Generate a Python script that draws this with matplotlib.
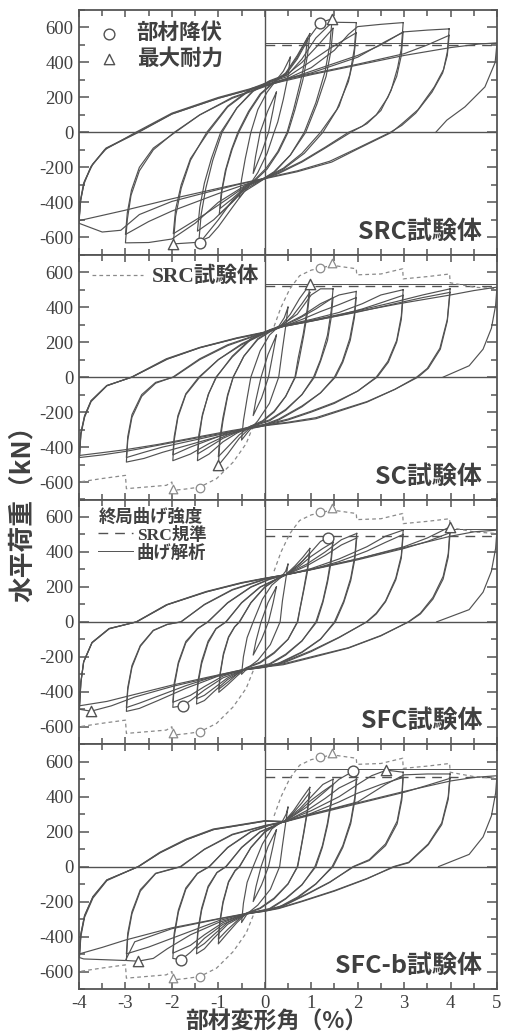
import matplotlib
matplotlib.use("Agg")
import matplotlib.pyplot as plt
from matplotlib.ticker import MultipleLocator, FixedLocator, FixedFormatter

plt.rcParams['font.family'] = ['Liberation Serif', 'Noto Sans CJK JP']
plt.rcParams['axes.unicode_minus'] = False

# ---------------------------------------------------------------- data
panel_names = ["SRC試験体", "SC試験体", "SFC試験体", "SFC-b試験体"]
x_ticks = [-4, -3, -2, -1, 0, 1, 2, 3, 4, 5]
x_tick_labels = ["-4", "-3", "-2", "-1", "0", "1", "2", "3", "4", "5"]
y_ticks = [-600, -400, -200, 0, 200, 400, 600]
y_tick_labels = ["-600", "-400", "-200", "0", "200", "400", "600"]

# hysteresis loops (drift %, load kN): positive peak -> unloading -> negative peak -> reloading
src_loops = [
    [(0.25, 230), (0.18, 130), (0.08, 0), (-0.06, -110), (-0.25, -235), (-0.2, -140), (-0.1, 0), (0.06, 120), (0.25, 230)],
    [(0.55, 430), (0.5, 320), (0.4, 190), (0.28, 60), (0.2, 0), (0.05, -120), (-0.15, -230), (-0.35, -310), (-0.55, -375),
     (-0.5, -270), (-0.42, -150), (-0.3, 0), (-0.15, 130), (0.05, 230), (0.25, 300), (0.4, 350), (0.55, 430)],
    [(0.97, 565), (0.92, 440), (0.82, 300), (0.65, 130), (0.5, 0), (0.3, -110), (0.05, -210), (-0.25, -285), (-0.45, -330),
     (-0.7, -400), (-0.98, -470), (-0.94, -350), (-0.85, -220), (-0.72, -100), (-0.58, 0), (-0.35, 120), (-0.1, 220),
     (0.2, 290), (0.45, 340), (0.7, 440), (0.97, 565)],
    [(0.92, 540), (0.87, 420), (0.77, 290), (0.62, 130), (0.48, 0), (0.28, -110), (0.03, -205), (-0.25, -280), (-0.45, -320),
     (-0.7, -380), (-0.96, -435), (-0.92, -330), (-0.83, -210), (-0.7, -95), (-0.56, 0), (-0.33, 120), (-0.08, 220),
     (0.2, 285), (0.45, 335), (0.7, 430), (0.92, 540)],
    [(1.45, 650), (1.4, 500), (1.3, 350), (1.1, 170), (0.85, 0), (0.55, -130), (0.2, -230), (-0.15, -290), (-0.45, -340),
     (-0.7, -430), (-1.0, -540), (-1.2, -600), (-1.42, -625), (-1.37, -470), (-1.27, -320), (-1.12, -160), (-0.92, 0),
     (-0.6, 140), (-0.25, 240), (0.1, 295), (0.45, 330), (0.7, 420), (0.95, 540), (1.19, 627), (1.45, 650)],
    [(1.47, 595), (1.42, 460), (1.32, 320), (1.12, 160), (0.88, 0), (0.55, -130), (0.2, -225), (-0.15, -285), (-0.45, -330),
     (-0.75, -410), (-1.1, -500), (-1.45, -565), (-1.4, -430), (-1.3, -290), (-1.15, -150), (-0.95, 0), (-0.6, 140),
     (-0.25, 235), (0.1, 290), (0.45, 325), (0.8, 400), (1.15, 500), (1.47, 595)],
    [(1.97, 628), (1.93, 480), (1.83, 330), (1.6, 150), (1.25, 0), (0.85, -120), (0.4, -210), (0, -265), (-0.4, -310),
     (-0.7, -390), (-1.0, -500), (-1.39, -628), (-1.97, -638), (-1.92, -480), (-1.8, -320), (-1.6, -160), (-1.25, 0),
     (-0.8, 150), (-0.3, 250), (0.2, 300), (0.5, 330), (0.8, 420), (1.1, 540), (1.45, 630), (1.97, 628)],
    [(1.97, 570), (1.92, 430), (1.8, 290), (1.55, 130), (1.2, 0), (0.8, -120), (0.4, -205), (0, -260), (-0.4, -305),
     (-0.8, -380), (-1.3, -470), (-1.97, -580), (-1.92, -440), (-1.8, -300), (-1.6, -150), (-1.22, 0), (-0.8, 145),
     (-0.3, 245), (0.2, 295), (0.5, 320), (0.9, 390), (1.4, 480), (1.97, 570)],
    [(2.98, 628), (2.94, 480), (2.86, 370), (2.72, 240), (2.5, 125), (2.2, 50), (1.85, 0), (1.3, -90), (0.8, -170),
     (0.3, -235), (0, -265), (-0.4, -300), (-1.0, -400), (-1.5, -520), (-2.0, -610), (-2.5, -630), (-3.0, -632),
     (-2.96, -500), (-2.88, -360), (-2.7, -220), (-2.4, -100), (-1.95, 0), (-1.4, 100), (-0.7, 200), (0, 265),
     (0.5, 310), (1.0, 370), (1.5, 470), (1.8, 560), (2.0, 605), (2.5, 618), (2.98, 628)],
    [(2.98, 575), (2.94, 440), (2.84, 320), (2.65, 200), (2.4, 100), (2.1, 35), (1.8, 0), (1.3, -85), (0.8, -165),
     (0.3, -230), (0, -262), (-0.5, -305), (-1.0, -350), (-1.5, -400), (-2.0, -450), (-2.5, -510), (-3.0, -584),
     (-2.96, -460), (-2.87, -330), (-2.7, -200), (-2.4, -90), (-1.93, 0), (-1.4, 100), (-0.7, 195), (0, 262),
     (0.5, 305), (1.0, 350), (1.5, 395), (2.0, 440), (2.5, 500), (2.98, 575)],
    [(3.97, 592), (3.93, 460), (3.85, 360), (3.65, 260), (3.3, 130), (3.0, 60), (2.73, 0), (2.0, -95), (1.44, -170),
     (0.7, -225), (0, -265), (-0.6, -300), (-1.2, -340), (-2.0, -395), (-2.7, -470), (-3.1, -560), (-3.5, -570),
     (-4.0, -520), (-3.97, -400), (-3.9, -300), (-3.75, -200), (-3.45, -100), (-2.78, 0), (-2.0, 110), (-1.0, 200),
     (0, 272), (0.5, 310), (1.0, 340), (2.0, 430), (2.6, 520), (3.0, 575), (3.5, 585), (3.97, 592)],
    [(3.97, 555), (3.93, 440), (3.83, 340), (3.6, 230), (3.25, 110), (2.95, 40), (2.7, 0), (2.0, -90), (1.4, -165),
     (0.7, -220), (0, -262), (-1.0, -320), (-2.0, -380), (-3.0, -445), (-4.0, -505), (-3.97, -390), (-3.9, -290),
     (-3.73, -190), (-3.42, -90), (-2.74, 0), (-2.0, 105), (-1.0, 195), (0, 268), (0.5, 305), (1.0, 335), (2.0, 390),
     (3.0, 450), (3.5, 500), (3.97, 555)],
    [(-4.0, -505), (-3.96, -380), (-3.88, -280), (-3.7, -180), (-3.4, -90), (-2.72, 0), (-2.0, 105), (-1.0, 195),
     (0, 268), (1.0, 330), (2.0, 385), (3.0, 440), (4.0, 485), (4.6, 505), (5.0, 512), (4.96, 400), (4.74, 260),
     (4.31, 146), (3.92, 70), (3.68, 0)],
]

sc_loops = [
    [(0.25, 240), (0.18, 140), (0.08, 0), (-0.07, -120), (-0.25, -220), (-0.19, -130), (-0.08, 0), (0.07, 130), (0.25, 240)],
    [(0.5, 400), (0.45, 290), (0.38, 160), (0.3, 0), (0.1, -150), (-0.15, -250), (-0.35, -310), (-0.5, -360),
     (-0.46, -250), (-0.38, -120), (-0.3, 0), (-0.1, 150), (0.1, 240), (0.3, 290), (0.42, 340), (0.5, 400)],
    [(0.97, 530), (0.92, 400), (0.83, 250), (0.72, 110), (0.65, 0), (0.45, -110), (0.2, -200), (-0.05, -255),
     (-0.3, -285), (-0.55, -350), (-0.8, -440), (-1.0, -505), (-0.97, -380), (-0.9, -250), (-0.8, -110), (-0.68, 0),
     (-0.45, 120), (-0.15, 220), (0.15, 270), (0.35, 295), (0.55, 360), (0.75, 450), (0.97, 530)],
    [(0.97, 485), (0.92, 370), (0.84, 240), (0.74, 100), (0.66, 0), (0.45, -110), (0.2, -195), (-0.05, -250),
     (-0.3, -280), (-0.55, -330), (-0.8, -400), (-1.0, -455), (-0.97, -350), (-0.9, -230), (-0.8, -100), (-0.68, 0),
     (-0.45, 120), (-0.15, 215), (0.15, 265), (0.35, 290), (0.6, 350), (0.8, 420), (0.97, 485)],
    [(1.47, 505), (1.43, 380), (1.35, 240), (1.2, 100), (1.05, 0), (0.8, -100), (0.45, -190), (0.1, -250), (-0.3, -285),
     (-0.6, -320), (-0.9, -370), (-1.2, -440), (-1.45, -478), (-1.42, -360), (-1.35, -230), (-1.22, -100), (-1.04, 0),
     (-0.7, 120), (-0.3, 220), (0.1, 270), (0.35, 295), (0.7, 360), (1.0, 470), (1.2, 505), (1.47, 505)],
    [(1.47, 455), (1.43, 340), (1.35, 210), (1.2, 90), (1.07, 0), (0.8, -100), (0.45, -185), (0.1, -245), (-0.3, -280),
     (-0.6, -315), (-0.9, -350), (-1.2, -400), (-1.45, -440), (-1.42, -330), (-1.34, -210), (-1.2, -90), (-1.05, 0),
     (-0.7, 115), (-0.3, 215), (0.1, 265), (0.35, 290), (0.7, 330), (1.1, 390), (1.47, 455)],
    [(1.97, 490), (1.93, 360), (1.83, 220), (1.67, 90), (1.5, 0), (1.2, -90), (0.8, -170), (0.3, -245), (0, -275),
     (-0.4, -295), (-0.8, -330), (-1.2, -380), (-1.6, -440), (-1.98, -478), (-1.95, -360), (-1.87, -230), (-1.7, -100),
     (-1.4, 0), (-1.0, 100), (-0.5, 190), (0, 255), (0.35, 290), (0.8, 350), (1.2, 420), (1.6, 470), (1.97, 490)],
    [(1.97, 455), (1.93, 340), (1.84, 210), (1.68, 85), (1.52, 0), (1.2, -90), (0.8, -165), (0.3, -240), (0, -270),
     (-0.4, -290), (-0.8, -320), (-1.2, -360), (-1.6, -400), (-1.98, -445), (-1.95, -340), (-1.87, -220), (-1.7, -95),
     (-1.42, 0), (-1.0, 100), (-0.5, 185), (0, 250), (0.35, 285), (0.8, 330), (1.2, 375), (1.6, 415), (1.97, 455)],
    [(2.98, 500), (2.94, 350), (2.84, 210), (2.65, 90), (2.4, 0), (2.0, -80), (1.5, -150), (1.0, -200), (0.5, -245),
     (0, -278), (-0.5, -305), (-1.0, -340), (-1.6, -385), (-2.2, -430), (-2.6, -465), (-2.98, -486), (-2.95, -360),
     (-2.86, -230), (-2.65, -110), (-2.35, -35), (-1.98, 0), (-1.4, 105), (-0.8, 185), (0, 258), (0.35, 292),
     (1.0, 330), (1.6, 370), (2.1, 420), (2.5, 470), (2.98, 500)],
    [(2.98, 468), (2.94, 330), (2.84, 200), (2.66, 85), (2.42, 0), (2.0, -80), (1.5, -145), (1.0, -195), (0.5, -240),
     (0, -272), (-0.5, -300), (-1.0, -330), (-1.6, -365), (-2.2, -400), (-2.6, -430), (-2.98, -460), (-2.95, -340),
     (-2.86, -215), (-2.65, -100), (-2.35, -30), (-1.96, 0), (-1.4, 100), (-0.8, 180), (0, 255), (0.35, 288),
     (1.0, 322), (1.6, 355), (2.1, 390), (2.5, 425), (2.98, 468)],
    [(3.99, 505), (3.93, 330), (3.77, 165), (3.5, 50), (3.27, 0), (2.8, -70), (2.2, -143), (1.6, -195), (1.1, -238),
     (0.5, -262), (0, -278), (-0.7, -310), (-1.5, -350), (-2.3, -390), (-3.0, -425), (-3.5, -445), (-3.99, -460),
     (-3.96, -330), (-3.88, -230), (-3.74, -140), (-3.4, -50), (-2.87, 0), (-2.12, 105), (-1.4, 170), (-0.6, 225),
     (0, 258), (0.35, 290), (1.0, 325), (2.0, 380), (2.8, 430), (3.4, 470), (3.99, 505)],
    [(3.99, 485), (3.93, 320), (3.78, 160), (3.52, 50), (3.3, 0), (2.8, -70), (2.2, -140), (1.6, -190), (1.1, -232),
     (0.5, -258), (0, -275), (-0.7, -305), (-1.5, -345), (-2.3, -385), (-3.0, -415), (-3.5, -432), (-3.99, -448),
     (-3.96, -320), (-3.88, -222), (-3.74, -135), (-3.4, -48), (-2.86, 0), (-2.1, 103), (-1.4, 168), (-0.6, 222),
     (0, 255), (0.35, 287), (1.0, 320), (2.0, 372), (2.8, 420), (3.4, 455), (3.99, 485)],
    [(-3.99, -448), (-3.96, -320), (-3.88, -222), (-3.74, -135), (-3.4, -48), (-2.86, 0), (-2.1, 103), (-1.4, 168),
     (-0.6, 222), (0, 255), (0.35, 287), (1.0, 320), (2.0, 375), (3.0, 425), (4.0, 470), (4.5, 495), (5.0, 515),
     (4.97, 410), (4.88, 280), (4.7, 160), (4.4, 65), (3.84, 0)],
]

sfc_loops = [
    [(0.25, 200), (0.18, 110), (0.08, 0), (-0.07, -100), (-0.25, -190), (-0.19, -110), (-0.08, 0), (0.07, 110), (0.25, 200)],
    [(0.5, 330), (0.45, 240), (0.38, 120), (0.33, 0), (0.12, -130), (-0.15, -220), (-0.35, -260), (-0.5, -300),
     (-0.46, -200), (-0.38, -90), (-0.25, 0), (-0.05, 130), (0.15, 210), (0.35, 255), (0.45, 290), (0.5, 330)],
    [(0.97, 420), (0.92, 310), (0.84, 190), (0.76, 80), (0.7, 0), (0.5, -100), (0.2, -180), (-0.1, -235), (-0.4, -265),
     (-0.6, -310), (-0.8, -360), (-0.99, -403), (-0.96, -300), (-0.89, -190), (-0.78, -90), (-0.65, -30), (-0.54, 0),
     (-0.3, 110), (0, 200), (0.25, 245), (0.45, 270), (0.65, 320), (0.82, 370), (0.97, 420)],
    [(0.97, 395), (0.92, 290), (0.84, 180), (0.76, 75), (0.71, 0), (0.5, -100), (0.2, -175), (-0.1, -230), (-0.4, -262),
     (-0.6, -300), (-0.8, -345), (-0.99, -385), (-0.96, -290), (-0.89, -180), (-0.78, -85), (-0.65, -28), (-0.55, 0),
     (-0.3, 108), (0, 198), (0.25, 242), (0.45, 268), (0.65, 310), (0.82, 350), (0.97, 395)],
    [(1.47, 487), (1.43, 370), (1.35, 240), (1.25, 120), (1.1, 0), (0.8, -110), (0.45, -190), (0.1, -245),
     (-0.45, -275), (-0.8, -330), (-1.1, -400), (-1.3, -450), (-1.47, -470), (-1.44, -360), (-1.36, -240),
     (-1.22, -120), (-1.05, -40), (-0.83, 0), (-0.5, 110), (-0.1, 200), (0.25, 245), (0.45, 270), (0.75, 330),
     (1.0, 400), (1.2, 460), (1.36, 481), (1.47, 487)],
    [(1.47, 455), (1.43, 345), (1.35, 225), (1.25, 110), (1.12, 0), (0.8, -108), (0.45, -185), (0.1, -240),
     (-0.45, -272), (-0.8, -320), (-1.1, -380), (-1.3, -420), (-1.47, -440), (-1.44, -340), (-1.36, -225),
     (-1.22, -110), (-1.05, -38), (-0.84, 0), (-0.5, 108), (-0.1, 198), (0.25, 243), (0.45, 268), (0.75, 320),
     (1.0, 375), (1.25, 420), (1.47, 455)],
    [(1.98, 506), (1.94, 380), (1.85, 250), (1.7, 120), (1.5, 0), (1.2, -100), (0.8, -175), (0.3, -240), (0, -260),
     (-0.45, -275), (-0.9, -320), (-1.3, -390), (-1.6, -450), (-1.76, -479), (-1.98, -489), (-1.95, -370),
     (-1.86, -240), (-1.7, -120), (-1.45, -40), (-1.22, 0), (-0.8, 110), (-0.3, 200), (0.1, 245), (0.45, 270),
     (0.9, 330), (1.3, 400), (1.65, 470), (1.98, 506)],
    [(1.98, 480), (1.94, 360), (1.85, 235), (1.7, 110), (1.52, 0), (1.2, -98), (0.8, -172), (0.3, -236), (0, -257),
     (-0.45, -272), (-0.9, -310), (-1.3, -370), (-1.6, -420), (-1.98, -460), (-1.95, -350), (-1.86, -230),
     (-1.7, -112), (-1.45, -38), (-1.23, 0), (-0.8, 108), (-0.3, 198), (0.1, 243), (0.45, 268), (0.9, 320),
     (1.3, 380), (1.65, 440), (1.98, 480)],
    [(2.98, 525), (2.94, 380), (2.82, 250), (2.6, 120), (2.4, 50), (2.19, 0), (1.6, -90), (1.0, -170), (0.4, -235),
     (0, -258), (-0.45, -275), (-1.0, -310), (-1.7, -380), (-2.3, -450), (-2.7, -495), (-2.98, -512), (-2.95, -390),
     (-2.86, -260), (-2.68, -140), (-2.4, -50), (-2.1, -15), (-1.8, 0), (-1.3, 100), (-0.7, 185), (0, 245),
     (0.45, 270), (1.0, 305), (1.6, 360), (2.2, 430), (2.6, 490), (2.98, 525)],
    [(2.98, 500), (2.94, 365), (2.82, 240), (2.6, 115), (2.4, 45), (2.2, 0), (1.6, -88), (1.0, -165), (0.4, -230),
     (0, -255), (-0.45, -272), (-1.0, -305), (-1.7, -365), (-2.3, -425), (-2.7, -465), (-2.98, -490), (-2.95, -375),
     (-2.86, -250), (-2.68, -135), (-2.4, -48), (-2.1, -14), (-1.81, 0), (-1.3, 98), (-0.7, 182), (0, 242),
     (0.45, 268), (1.0, 300), (1.6, 345), (2.2, 405), (2.6, 455), (2.98, 500)],
    [(3.99, 544), (3.95, 390), (3.84, 260), (3.62, 140), (3.35, 50), (3.09, 0), (2.5, -80), (1.8, -150), (1.0, -205),
     (0.4, -245), (0, -258), (-0.45, -275), (-1.2, -320), (-2.0, -370), (-2.8, -430), (-3.3, -480), (-3.74, -511),
     (-3.99, -500), (-3.96, -350), (-3.9, -230), (-3.72, -120), (-3.35, -40), (-2.77, 0), (-2.12, 98), (-1.26, 174),
     (-0.5, 225), (0, 250), (0.45, 270), (1.0, 300), (2.0, 360), (3.0, 430), (3.5, 480), (3.99, 544)],
    [(3.99, 510), (3.95, 370), (3.84, 245), (3.62, 130), (3.35, 45), (3.1, 0), (2.5, -78), (1.8, -148), (1.0, -200),
     (0.4, -240), (0, -255), (-0.45, -272), (-1.2, -315), (-2.0, -362), (-2.8, -415), (-3.4, -455), (-3.99, -480),
     (-3.96, -345), (-3.9, -228), (-3.72, -118), (-3.35, -38), (-2.76, 0), (-2.1, 98), (-1.25, 172), (-0.5, 222),
     (0, 248), (0.45, 270), (1.0, 298), (2.0, 355), (3.0, 420), (3.5, 460), (3.99, 510)],
    [(-3.99, -480), (-3.96, -345), (-3.9, -228), (-3.72, -118), (-3.35, -38), (-2.76, 0), (-2.1, 98), (-1.25, 172),
     (-0.5, 222), (0, 248), (0.45, 270), (1.0, 300), (2.0, 360), (3.0, 425), (4.0, 490), (4.5, 515), (5.0, 525),
     (4.97, 420), (4.88, 290), (4.7, 170), (4.4, 70), (3.7, 0)],
]

sfcb_loops = [
    [(0.25, 210), (0.18, 120), (0.08, 0), (-0.07, -105), (-0.25, -200), (-0.19, -115), (-0.08, 0), (0.07, 115), (0.25, 210)],
    [(0.5, 340), (0.45, 250), (0.38, 120), (0.32, 0), (0.12, -130), (-0.15, -220), (-0.38, -270), (-0.5, -320),
     (-0.46, -210), (-0.38, -90), (-0.25, 0), (-0.05, 130), (0.15, 215), (0.38, 260), (0.46, 300), (0.5, 340)],
    [(0.97, 453), (0.92, 330), (0.84, 200), (0.76, 80), (0.7, 0), (0.5, -100), (0.2, -185), (-0.1, -240), (-0.4, -270),
     (-0.6, -320), (-0.8, -380), (-1.0, -442), (-0.97, -330), (-0.9, -210), (-0.78, -90), (-0.64, -25), (-0.54, 0),
     (-0.3, 110), (0, 200), (0.25, 240), (0.43, 262), (0.62, 320), (0.8, 390), (0.97, 453)],
    [(0.97, 425), (0.92, 315), (0.84, 190), (0.76, 75), (0.71, 0), (0.5, -98), (0.2, -180), (-0.1, -236), (-0.4, -266),
     (-0.6, -310), (-0.8, -360), (-1.0, -415), (-0.97, -315), (-0.9, -200), (-0.78, -85), (-0.64, -22), (-0.55, 0),
     (-0.3, 108), (0, 197), (0.25, 238), (0.43, 260), (0.62, 310), (0.8, 365), (0.97, 425)],
    [(1.47, 500), (1.43, 380), (1.35, 250), (1.24, 120), (1.08, 0), (0.8, -105), (0.45, -185), (0.1, -245),
     (-0.4, -272), (-0.8, -330), (-1.1, -410), (-1.3, -470), (-1.47, -499), (-1.44, -380), (-1.36, -250),
     (-1.22, -120), (-1.03, -35), (-0.83, 0), (-0.5, 110), (-0.1, 200), (0.25, 240), (0.43, 262), (0.75, 330),
     (1.0, 400), (1.25, 470), (1.47, 500)],
    [(1.47, 470), (1.43, 360), (1.35, 235), (1.24, 110), (1.1, 0), (0.8, -103), (0.45, -182), (0.1, -240),
     (-0.4, -270), (-0.8, -320), (-1.1, -390), (-1.3, -440), (-1.47, -470), (-1.44, -360), (-1.36, -238),
     (-1.22, -112), (-1.03, -33), (-0.84, 0), (-0.5, 108), (-0.1, 198), (0.25, 238), (0.43, 260), (0.75, 320),
     (1.0, 380), (1.25, 430), (1.47, 470)],
    [(1.98, 535), (1.94, 400), (1.85, 260), (1.68, 120), (1.45, 0), (1.1, -100), (0.7, -180), (0.3, -235), (0, -255),
     (-0.4, -270), (-0.9, -330), (-1.3, -410), (-1.6, -490), (-1.8, -533), (-1.98, -525), (-1.95, -400),
     (-1.86, -260), (-1.7, -130), (-1.45, -40), (-1.19, 0), (-0.8, 110), (-0.3, 200), (0.1, 238), (0.43, 258),
     (0.9, 340), (1.3, 430), (1.6, 500), (1.9, 545), (1.98, 535)],
    [(1.98, 500), (1.94, 380), (1.85, 245), (1.68, 110), (1.47, 0), (1.1, -98), (0.7, -175), (0.3, -232), (0, -252),
     (-0.4, -268), (-0.9, -320), (-1.3, -390), (-1.6, -450), (-1.98, -495), (-1.95, -380), (-1.86, -248),
     (-1.7, -122), (-1.45, -38), (-1.2, 0), (-0.8, 108), (-0.3, 198), (0.1, 236), (0.43, 256), (0.9, 320),
     (1.3, 390), (1.6, 450), (1.98, 500)],
    [(2.98, 540), (2.95, 400), (2.85, 260), (2.6, 130), (2.25, 40), (1.9, 0), (1.4, -90), (0.9, -160), (0.4, -225),
     (0, -252), (-0.4, -270), (-1.0, -320), (-1.6, -390), (-2.1, -470), (-2.4, -525), (-2.73, -541), (-2.98, -537),
     (-2.95, -400), (-2.86, -270), (-2.68, -140), (-2.35, -40), (-1.8, 0), (-1.3, 100), (-0.7, 185), (0, 235),
     (0.43, 258), (1.0, 320), (1.6, 400), (2.0, 470), (2.3, 520), (2.62, 552), (2.98, 540)],
    [(2.98, 510), (2.95, 380), (2.85, 245), (2.6, 120), (2.25, 35), (1.92, 0), (1.4, -88), (0.9, -157), (0.4, -222),
     (0, -250), (-0.4, -268), (-1.0, -310), (-1.6, -370), (-2.1, -420), (-2.5, -460), (-2.98, -499), (-2.95, -380),
     (-2.86, -258), (-2.68, -132), (-2.35, -38), (-1.82, 0), (-1.3, 98), (-0.7, 182), (0, 233), (0.43, 256),
     (1.0, 305), (1.6, 370), (2.0, 420), (2.5, 470), (2.98, 510)],
    [(3.99, 530), (3.95, 400), (3.81, 250), (3.52, 130), (3.1, 25), (2.77, 0), (2.2, -70), (1.5, -140), (0.8, -200),
     (0.3, -240), (0, -255), (-0.4, -270), (-1.0, -300), (-2.0, -355), (-2.8, -430), (-3.0, -537), (-3.5, -532),
     (-3.9, -528), (-3.99, -520), (-3.96, -400), (-3.88, -290), (-3.7, -180), (-3.4, -80), (-2.73, 0), (-2.26, 82),
     (-1.69, 158), (-1.11, 215), (0, 263), (0.43, 258), (1.0, 300), (2.0, 370), (2.6, 470), (3.0, 525), (3.5, 530),
     (3.99, 530)],
    [(3.99, 505), (3.95, 385), (3.81, 240), (3.52, 125), (3.1, 22), (2.8, 0), (2.2, -68), (1.5, -137), (0.8, -197),
     (0.3, -237), (0, -252), (-0.4, -268), (-1.0, -298), (-2.0, -350), (-3.0, -420), (-3.5, -462), (-3.99, -499),
     (-3.96, -385), (-3.88, -280), (-3.7, -172), (-3.4, -76), (-2.72, 0), (-2.25, 80), (-1.68, 155), (-1.1, 212),
     (0, 260), (0.43, 256), (1.0, 295), (2.0, 360), (3.0, 425), (3.5, 465), (3.99, 505)],
    [(-3.99, -499), (-3.96, -385), (-3.88, -280), (-3.7, -172), (-3.4, -76), (-2.72, 0), (-2.25, 80), (-1.68, 155),
     (-1.1, 212), (0, 260), (0.43, 258), (1.0, 300), (2.0, 365), (3.0, 430), (4.0, 490), (4.5, 510), (5.0, 520),
     (4.97, 420), (4.88, 290), (4.7, 170), (4.4, 70), (3.74, 0)],
]

# SRC specimen envelope, repeated as a reference in the other panels
src_env_pos = [(0.2, 290), (0.35, 400), (0.54, 505), (0.75, 580), (1.0, 612), (1.22, 625), (1.44, 640), (1.7, 630),
               (1.97, 620), (1.98, 585), (2.5, 590), (2.97, 620), (2.98, 562), (3.5, 575), (3.98, 590), (3.99, 540),
               (4.5, 515), (5.0, 505)]
src_env_neg = [(-0.25, -280), (-0.4, -380), (-0.68, -486), (-1.04, -581), (-1.4, -629), (-1.7, -640), (-1.98, -648),
               (-2.0, -600), (-2.12, -619), (-2.98, -638), (-3.0, -562), (-3.5, -580), (-4.0, -600)]

# member yield (circle) and maximum strength (triangle) points per specimen
src_yield = [(1.19, 627), (-1.39, -632)]
src_max = [(1.45, 650), (-1.97, -638)]
sc_yield = []
sc_max = [(0.97, 530), (-1.0, -505)]
sfc_yield = [(1.36, 481), (-1.76, -479)]
sfc_max = [(3.99, 544), (-3.74, -511)]
sfcb_yield = [(1.9, 545), (-1.8, -533)]
sfcb_max = [(2.62, 552), (-2.73, -541)]

# ultimate flexural strength (kN): SRC design standard / flexural analysis
code_strength = [498, 522, 490, 511]
analysis_strength = [513, 530, 533, 558]
strength_drift_range = (0, 5)

# ---------------------------------------------------------------- styling
LINE = "#525252"
REF = "#8a8a8a"
FRAME = "#555555"
TEXT = "#404040"
CJK = ["Noto Sans CJK JP", "DejaVu Sans"]
SERIF_CJK = ["Liberation Serif", "Noto Sans CJK JP"]

fig = plt.figure(figsize=(5.05, 10.34), dpi=100)
W, H = 505.0, 1034.0
left, right, top, bottom = 79, 497, 10, 989
ph = (bottom - top) / 4.0

all_loops = [src_loops, sc_loops, sfc_loops, sfcb_loops]
all_yield = [src_yield, sc_yield, sfc_yield, sfcb_yield]
all_max = [src_max, sc_max, sfc_max, sfcb_max]

for i in range(4):
    y0 = top + i * ph
    ax = fig.add_axes([left / W, 1 - (y0 + ph) / H, (right - left) / W, ph / H])
    ax.set_xlim(-4, 5)
    ax.set_ylim(-700, 700)

    for s in ax.spines.values():
        s.set_color(FRAME)
        s.set_linewidth(1.3)

    ax.xaxis.set_major_locator(FixedLocator(x_ticks))
    ax.xaxis.set_minor_locator(MultipleLocator(0.5))
    ax.yaxis.set_major_locator(FixedLocator(y_ticks))
    ax.yaxis.set_major_formatter(FixedFormatter(y_tick_labels))
    ax.yaxis.set_minor_locator(MultipleLocator(100))
    ax.tick_params(axis='both', which='both', direction='in', top=True, right=True, color=FRAME, width=1.1)
    ax.tick_params(axis='y', which='major', length=7, pad=4)
    ax.tick_params(axis='y', which='minor', length=4)
    ax.tick_params(axis='x', which='major', length=5, pad=4)
    ax.tick_params(axis='x', which='minor', length=4)
    ax.tick_params(labelsize=13.5, labelcolor=TEXT, labelfontfamily='Liberation Serif')
    if i == 3:
        ax.xaxis.set_major_formatter(FixedFormatter(x_tick_labels))
    else:
        ax.tick_params(axis='x', labelbottom=False)

    ax.axhline(0, color=LINE, lw=1.0, zorder=1)
    ax.axvline(0, color=LINE, lw=1.0, zorder=1)

    for loop in all_loops[i]:
        xs, ys = zip(*loop)
        ax.plot(xs, ys, color=LINE, lw=0.85, zorder=3, solid_joinstyle='round')

    h_code, = ax.plot(strength_drift_range, [code_strength[i]] * 2, color=LINE, lw=1.0,
                      dashes=(7, 5), zorder=2, label="SRC規準")
    h_anal, = ax.plot(strength_drift_range, [analysis_strength[i]] * 2, color=LINE, lw=0.7,
                      zorder=2, label="曲げ解析")

    if i > 0:
        for env in (src_env_pos, src_env_neg):
            xs, ys = zip(*env)
            h_env, = ax.plot(xs, ys, color=REF, lw=0.9, dashes=(3, 2.5), zorder=2)
        xs, ys = zip(*src_yield)
        ax.scatter(xs, ys, marker='o', s=38, facecolor='white', edgecolor=REF, lw=0.9, zorder=4)
        xs, ys = zip(*src_max)
        ax.scatter(xs, ys, marker='^', s=38, facecolor='white', edgecolor=REF, lw=0.9, zorder=4)

    h_y = h_m = None
    if all_yield[i]:
        xs, ys = zip(*all_yield[i])
        h_y = ax.scatter(xs, ys, marker='o', s=60, facecolor='white', edgecolor=LINE, lw=1.0, zorder=5)
    if all_max[i]:
        xs, ys = zip(*all_max[i])
        h_m = ax.scatter(xs, ys, marker='^', s=55, facecolor='white', edgecolor=LINE, lw=1.0, zorder=5)

    ax.text(0.965, 0.065, panel_names[i], transform=ax.transAxes, ha='right', va='baseline',
            fontsize=18, fontweight='bold', family=CJK, color=TEXT)

    if i == 0:
        leg = ax.legend([h_y, h_m], ["部材降伏", "最大耐力"], loc='upper left', frameon=False,
                        bbox_to_anchor=(0.03, 0.985), handlelength=0.8, handletextpad=0.9,
                        labelspacing=0.2, borderaxespad=0.0,
                        prop={'family': CJK, 'weight': 'bold', 'size': 15.5})
        for t in leg.get_texts():
            t.set_color(TEXT)
    elif i == 1:
        leg = ax.legend([h_env], ["SRC試験体"], loc='upper left', frameon=False,
                        bbox_to_anchor=(0.01, 0.985), handlelength=2.4, handletextpad=0.4,
                        borderaxespad=0.0, prop={'family': SERIF_CJK, 'weight': 'bold', 'size': 15.5})
        for t in leg.get_texts():
            t.set_color(TEXT)
    elif i == 2:
        leg = ax.legend([h_code, h_anal], ["SRC規準", "曲げ解析"], loc='upper left', frameon=False,
                        bbox_to_anchor=(0.03, 0.995), handlelength=2.0, handletextpad=0.2,
                        labelspacing=0.05, borderaxespad=0.0, alignment='left',
                        title="終局曲げ強度",
                        prop={'family': SERIF_CJK, 'weight': 'bold', 'size': 12.5},
                        title_fontproperties={'family': CJK, 'weight': 'bold', 'size': 12.5})
        for t in leg.get_texts():
            t.set_color(TEXT)
        leg.get_title().set_color(TEXT)

fig.text(22 / W, 1 - 507 / H, "水平荷重（kN）", rotation=90, ha='center', va='center',
         fontsize=18.5, fontweight='bold', family=CJK, color=TEXT)
fig.text(276 / W, 1 - 1022 / H, "部材変形角（%）", ha='center', va='center',
         fontsize=16.5, fontweight='bold', family=CJK, color=TEXT)

fig.savefig("out.png", dpi=100, facecolor='white')
